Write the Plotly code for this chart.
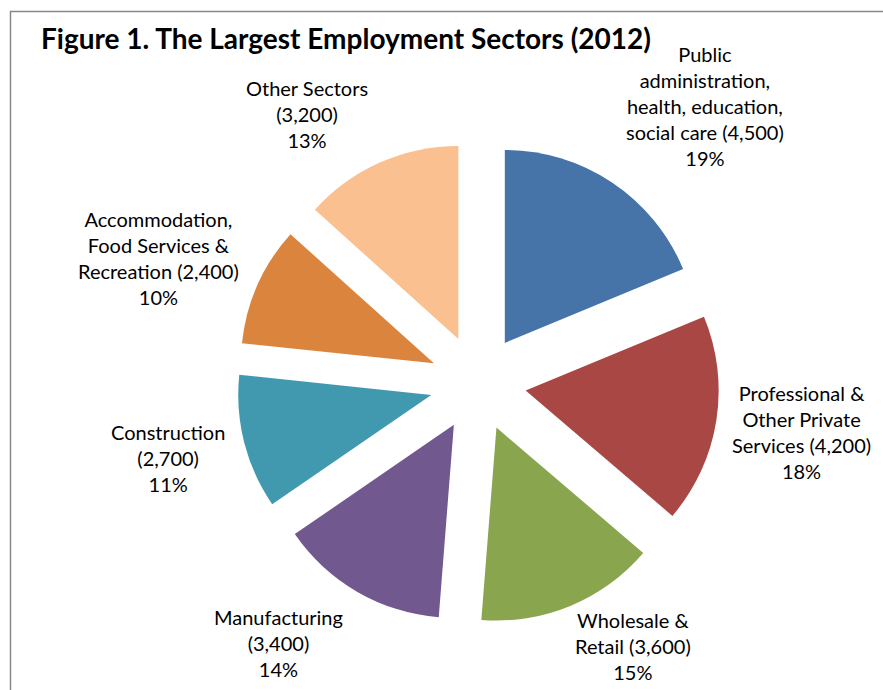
import plotly.graph_objects as go

# Employment by sector, 2012 (thousands of jobs)
sectors = [
    "Public administration, health, education, social care",
    "Professional & Other Private Services",
    "Wholesale & Retail",
    "Manufacturing",
    "Construction",
    "Accommodation, Food Services & Recreation",
    "Other Sectors",
]
jobs = [4500, 4200, 3600, 3400, 2700, 2400, 3200]

# Wrapped label names; the value in brackets is appended to the last piece
label_names = [
    "Public<br>administration,<br>health, education,<br>social care ",
    "Professional &<br>Other Private<br>Services ",
    "Wholesale &<br>Retail ",
    "Manufacturing<br>",
    "Construction<br>",
    "Accommodation,<br>Food Services &<br>Recreation ",
    "Other Sectors<br>",
]

colors = ["#4674A8", "#A84744", "#89A64E", "#71588F", "#4199B0", "#DB843D", "#FAC090"]

W, H = 883, 690
FONT = "Lato"

# Label centres (pixels from the top-left of the page)
label_xy = [(705, 106), (801, 432), (633, 646), (278, 643), (168, 458), (158, 258), (307, 114)]

total = sum(jobs)
texts = []
for name, v in zip(label_names, jobs):
    pct = int(100 * v / total + 0.5)
    texts.append(f"{name}({v:,})<br>{pct}%")

# Pie placement: centre and outer size of the pie box in pixels
cx, cy, box = 478, 383, 482.5

fig = go.Figure(
    go.Pie(
        labels=sectors,
        values=jobs,
        sort=False,
        direction="clockwise",
        rotation=0,
        pull=0.25,
        marker=dict(colors=colors, line=dict(width=0)),
        textinfo="none",
        hoverinfo="label+value+percent",
        domain=dict(
            x=[(cx - box / 2) / W, (cx + box / 2) / W],
            y=[1 - (cy + box / 2) / H, 1 - (cy - box / 2) / H],
        ),
    )
)

annotations = [
    dict(
        text="<b>Figure 1. The Largest Employment Sectors (2012)</b>",
        x=39 / W, y=1 - 38 / H, xref="paper", yref="paper",
        xanchor="left", yanchor="middle", showarrow=False,
        font=dict(family=FONT, size=28, color="#000000"),
    )
]
for t, (lx, ly) in zip(texts, label_xy):
    annotations.append(
        dict(
            text=t, x=lx / W, y=1 - ly / H, xref="paper", yref="paper",
            xanchor="center", yanchor="middle", align="center", showarrow=False,
            font=dict(family=FONT, size=20, color="#000000"),
        )
    )

fig.update_layout(
    width=W, height=H,
    margin=dict(l=0, r=0, t=0, b=0),
    paper_bgcolor="white",
    plot_bgcolor="white",
    showlegend=False,
    annotations=annotations,
    shapes=[
        dict(
            type="rect", xref="paper", yref="paper",
            x0=10.5 / W, x1=1.05, y0=-0.05, y1=1 - 11.5 / H,
            line=dict(color="#888888", width=1.5), fillcolor="rgba(0,0,0,0)",
        )
    ],
)

fig.write_html("out.html")
